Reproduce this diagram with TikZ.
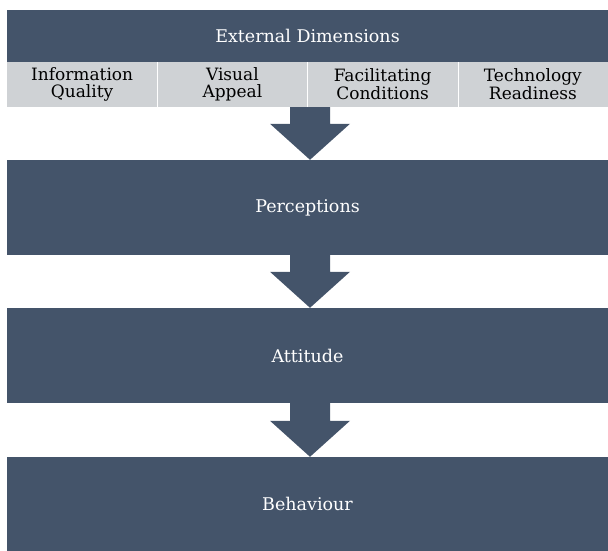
\documentclass[tikz,border=0pt]{standalone}
\usepackage{fontspec}
\setmainfont{DejaVu Serif}
\usetikzlibrary{positioning,calc}
\definecolor{slate}{RGB}{68,84,106}
\definecolor{lightgrey}{RGB}{207,210,213}
\newcommand{\flowarrow}[2]{%
  \fill[slate] ($(#1.south -| mid)+(-20,0)$) -- ($(#1.south -| mid)+(20,0)$)
    -- ($(#2.north -| mid)+(20,36)$) -- ($(#2.north -| mid)+(40,36)$)
    -- (#2.north -| mid) -- ($(#2.north -| mid)+(-40,36)$)
    -- ($(#2.north -| mid)+(-20,36)$) -- cycle;}

\begin{document}
\begin{tikzpicture}[x=1pt, y=1pt, band/.style={fill=slate, text=white, minimum width=601pt, inner sep=0pt, font=\fontsize{17.5}{20}\selectfont}, cell/.style={fill=lightgrey, minimum width=150.25pt, minimum height=45pt, inner sep=0pt, align=center, font=\fontsize{17}{16.5}\selectfont}, node distance=150.25pt, on grid]
  \useasboundingbox (0,0) rectangle (608,551);
  \coordinate (mid) at (310,0);

  % Header with the four dimensions
  \node[band, minimum height=52pt] (ext) at (307.5,515) {External Dimensions};
  \node[cell] (info) at (82.125,466.5) {Information\\Quality};
  \node[cell] (visual) [right=of info] {Visual\\Appeal};
  \node[cell] (facil) [right=of visual] {Facilitating\\Conditions};
  \node[cell] (tech) [right=of facil] {Technology\\Readiness};
  \foreach \c in {info,visual,facil}
    \draw[white, line width=0.8pt] (\c.north east) -- (\c.south east);

  % Stages
  \node[band, minimum height=95pt] (perc) at (307.5,343.5) {Perceptions};
  \node[band, minimum height=95pt] (att) at (307.5,195.5) {Attitude};
  \node[band, minimum height=94pt] (beh) at (307.5,47) {Behaviour};

  % Arrows between the stages
  \flowarrow{visual}{perc}
  \flowarrow{perc}{att}
  \flowarrow{att}{beh}
\end{tikzpicture}
\end{document}
